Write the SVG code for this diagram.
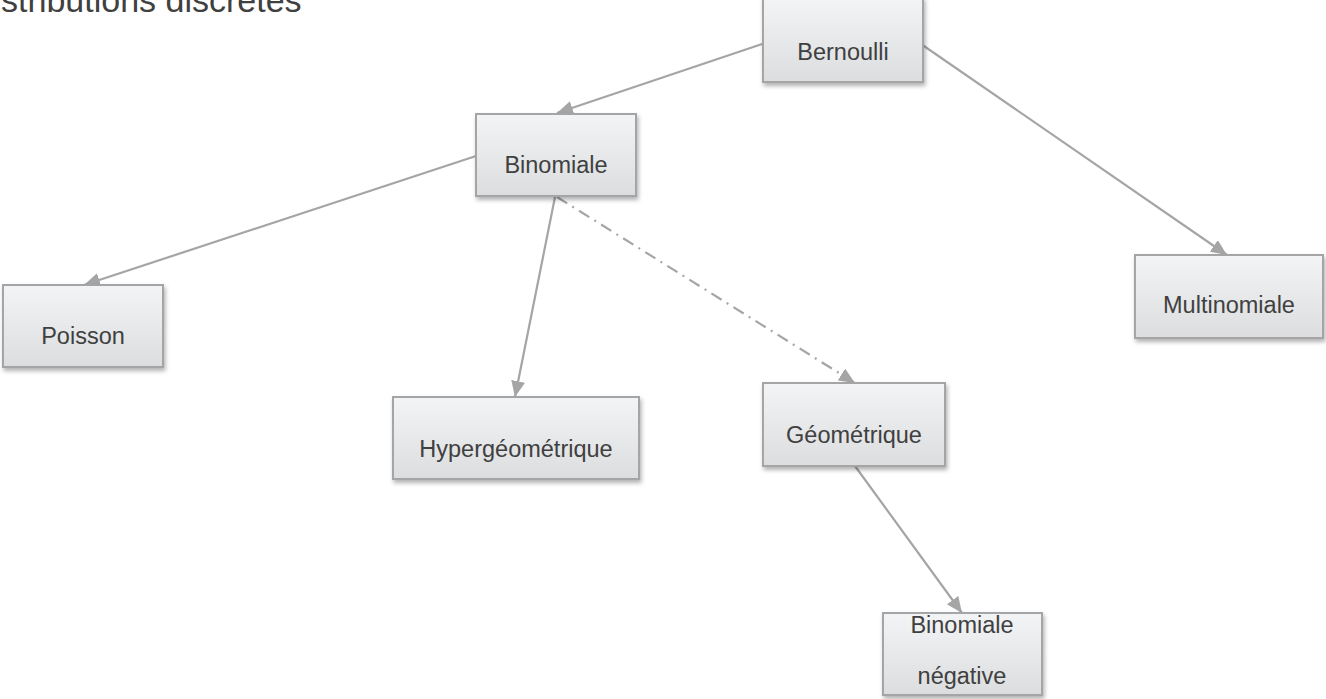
<svg xmlns="http://www.w3.org/2000/svg" width="1326" height="699" viewBox="0 0 1326 699">
<style>
.box{fill:url(#g);stroke:#a3a5a7;stroke-width:2;filter:url(#sh)}
.lbl{font-family:"Liberation Sans",Arial,sans-serif;font-size:23.5px;fill:#404040;text-anchor:middle}
.ttl{font-family:"Liberation Sans",Arial,sans-serif;font-size:34px;fill:#404040}
.c{stroke:#a5a5a5;stroke-width:2.2;fill:none;marker-end:url(#ah)}
.dd{stroke-dasharray:12 6 2 6}
</style>
<defs>
<linearGradient id="g" x1="0" y1="0" x2="0" y2="1">
<stop offset="0" stop-color="#f3f4f5"/>
<stop offset="1" stop-color="#dbdddf"/>
</linearGradient>
<filter id="sh" x="-10%" y="-10%" width="125%" height="130%">
<feDropShadow dx="1.5" dy="3" stdDeviation="2" flood-color="#000" flood-opacity="0.3"/>
</filter>
<marker id="ah" markerUnits="userSpaceOnUse" markerWidth="18" markerHeight="16" refX="16" refY="7" orient="auto">
<path d="M0,0 L16,7 L0,14 Z" fill="#a5a5a5"/>
</marker>
</defs>
<text class="ttl" x="-31" y="12">Distributions discrètes</text>
<g id="connectors">
<line class="c" x1="765" y1="43" x2="557" y2="113"/>
<line class="c" x1="921" y1="44" x2="1227" y2="255"/>
<line class="c" x1="476" y1="156" x2="84" y2="285"/>
<line class="c" x1="555" y1="197" x2="515" y2="397"/>
<line class="c dd" x1="557" y1="197" x2="855" y2="383"/>
<line class="c" x1="855" y1="466" x2="962" y2="613"/>
</g>
<g id="bernoulli"><rect class="box" x="763" y="-2" width="160" height="84"/><text class="lbl" x="843" y="60">Bernoulli</text></g>
<g id="binomiale"><rect class="box" x="476" y="114" width="160" height="82"/><text class="lbl" x="556" y="173">Binomiale</text></g>
<g id="poisson"><rect class="box" x="3" y="285" width="160" height="82"/><text class="lbl" x="83" y="344">Poisson</text></g>
<g id="hypergeometrique"><rect class="box" x="393" y="397" width="246" height="82"/><text class="lbl" x="516" y="457">Hypergéométrique</text></g>
<g id="geometrique"><rect class="box" x="763" y="383" width="182" height="83"/><text class="lbl" x="854" y="443">Géométrique</text></g>
<g id="binomiale-negative"><rect class="box" x="883" y="613" width="159" height="82"/><text class="lbl" x="962" y="633">Binomiale</text><text class="lbl" x="962" y="684">négative</text></g>
<g id="multinomiale"><rect class="box" x="1135" y="255" width="188" height="83"/><text class="lbl" x="1229" y="313">Multinomiale</text></g>
</svg>
